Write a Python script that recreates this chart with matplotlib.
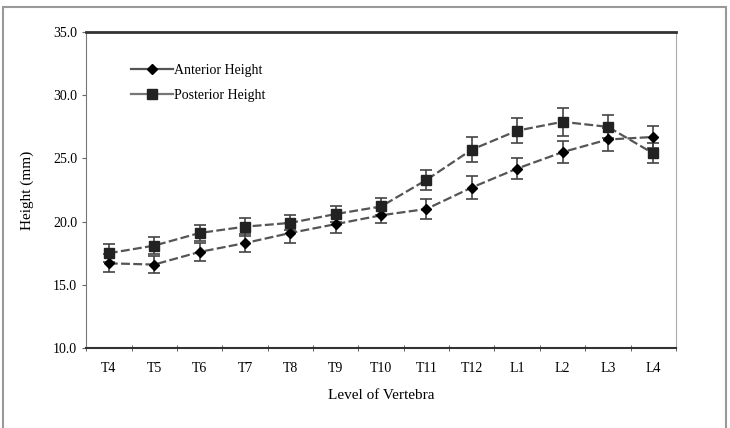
import matplotlib.pyplot as plt
import matplotlib.patches as patches
from matplotlib.lines import Line2D
import numpy as np

# Vertebral levels and measured heights (mm)
levels = ['T4', 'T5', 'T6', 'T7', 'T8', 'T9', 'T10', 'T11', 'T12', 'L1', 'L2', 'L3', 'L4']
anterior = [16.7, 16.6, 17.6, 18.3, 19.1, 19.8, 20.5, 21.0, 22.7, 24.2, 25.5, 26.5, 26.7]
anterior_err = [0.7, 0.7, 0.7, 0.7, 0.8, 0.7, 0.6, 0.8, 0.9, 0.8, 0.9, 0.9, 0.9]
posterior = [17.5, 18.1, 19.1, 19.6, 19.9, 20.6, 21.2, 23.3, 25.7, 27.2, 27.9, 27.5, 25.4]
posterior_err = [0.7, 0.7, 0.6, 0.7, 0.6, 0.6, 0.7, 0.8, 1.0, 1.0, 1.1, 0.9, 0.8]
y_ticks = [10.0, 15.0, 20.0, 25.0, 30.0, 35.0]

plt.rcParams['font.family'] = ['Liberation Serif', 'DejaVu Serif']

fig = plt.figure(figsize=(7.3, 4.28), dpi=100)
ax = fig.add_axes([0.118, 0.187, 0.808, 0.738])

x = np.arange(len(levels))
line_kw = dict(color='#555555', linewidth=1.6, linestyle=(0, (4, 1.5)),
               ecolor='#444444', elinewidth=1.2, capsize=4, capthick=1.2)

ax.errorbar(x, anterior, yerr=anterior_err, marker='D', markersize=5,
            markerfacecolor='black', markeredgecolor='black', **line_kw)
ax.errorbar(x, posterior, yerr=posterior_err, marker='s', markersize=7,
            markerfacecolor='#222222', markeredgecolor='#222222', **line_kw)

ax.set_xlim(-0.5, len(levels) - 0.5)
ax.set_ylim(10, 35)
ax.set_xticks(x)
ax.set_xticklabels(levels, fontsize=10)
ax.set_xticks(np.arange(-0.5, len(levels), 1), minor=True)
ax.tick_params(axis='x', which='major', length=0, pad=10)
ax.tick_params(axis='x', which='minor', length=4, direction='inout', color='#444444')
ax.set_yticks(y_ticks)
ax.set_yticklabels([f'{v:.1f}' for v in y_ticks], fontsize=10)
ax.tick_params(axis='y', length=3, color='#666666')

ax.spines['top'].set_linewidth(2)
ax.spines['top'].set_color('#333333')
ax.spines['bottom'].set_linewidth(1.5)
ax.spines['bottom'].set_color('#333333')
ax.spines['left'].set_color('#777777')
ax.spines['right'].set_color('#aaaaaa')

ax.set_xlabel('Level of Vertebra', fontsize=11, labelpad=10)
ax.set_ylabel('Height (mm)', fontsize=11, labelpad=14)

handles = [
    Line2D([], [], color='#555555', linewidth=1.6, marker='D', markersize=5,
           markerfacecolor='black', markeredgecolor='black'),
    Line2D([], [], color='#777777', linewidth=1.6, marker='s', markersize=7,
           markerfacecolor='#222222', markeredgecolor='#222222'),
]
ax.legend(handles, ['Anterior Height', 'Posterior Height'], loc='upper left',
          bbox_to_anchor=(0.055, 0.94), frameon=False, fontsize=10,
          handlelength=3, handletextpad=0.1, labelspacing=0.9)

# outer gray frame around the whole chart
fig.patches.append(patches.Rectangle((0.004, -0.01), 0.99, 0.994, transform=fig.transFigure,
                                     fill=False, edgecolor='#999999', linewidth=1.5))

fig.savefig('out.png', dpi=100)
